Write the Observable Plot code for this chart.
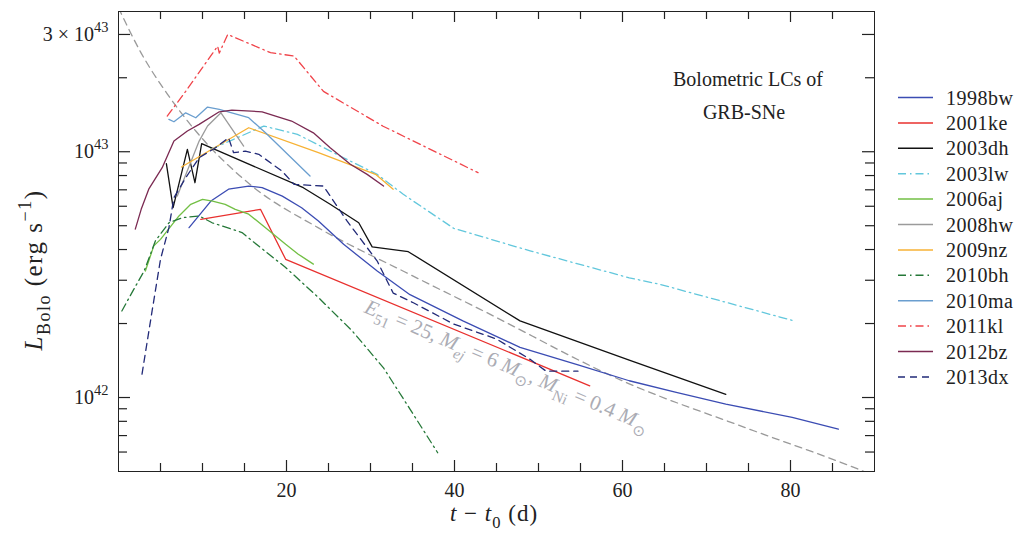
<!DOCTYPE html>
<html><head><meta charset="utf-8">
<script src="https://cdn.jsdelivr.net/npm/d3@7"></script>
<script src="https://cdn.jsdelivr.net/npm/@observablehq/plot@0.6"></script>
<style>
html,body{margin:0;padding:0;background:#fff;}
#chart{width:1017px;height:533px;}
svg text{white-space:pre;}
</style></head><body><div id="chart"></div>
<script>
// ---- data: t - t0 (days), L_Bolo in units of 1e42 erg/s ----
const t1998bw = [8.4,11.0,13.1,15.5,17.1,19.5,21.8,23.8,26.8,30.8,34.7,41.0,47.8,54.9,60.8,66.4,72.3,80.2,85.7];
const L1998bw = [4.91,6.30,7.04,7.25,7.14,6.60,5.92,5.23,4.20,3.27,2.62,2.05,1.60,1.35,1.17,1.05,0.94,0.83,0.744];
const t2001ke = [9.8,16.9,19.9,56.1];
const L2001ke = [5.31,5.83,3.65,1.116];
const t2003dh = [5.7,6.5,8.2,9.1,9.9,22.0,25.2,28.6,30.2,34.5,47.8,60.8,72.3];
const L2003dh = [8.94,5.92,10.23,7.48,10.78,7.14,6.11,5.14,4.10,3.92,2.05,1.42,1.03];
const t2003lw = [11.0,17.3,21.3,26.8,30.8,33.9,39.9,49.0,60.8,64.4,80.2];
const L2003lw = [10.23,12.72,11.77,9.45,8.09,6.71,4.88,3.95,3.07,2.89,2.06];
const t2006aj = [3.2,4.2,5.0,7.2,8.6,10.0,11.2,12.7,13.9,15.5,17.5,19.9,21.4,23.2];
const L2006aj = [3.27,4.14,4.40,5.48,6.11,6.40,6.30,6.11,5.83,5.57,4.91,4.20,3.83,3.49];
const t2008hw = [7.0,9.6,10.6,12.2,14.9];
const L2008hw = [6.6,11.05,12.72,14.4,10.55];
const t2009nz = [7.5,15.5,23.8,30.6,32.7];
const L2009nz = [8.67,12.52,9.91,8.09,7.04];
const t2010bh = [0.4,1.7,3.05,4.4,6.0,7.6,9.6,11.15,14.7,15.9,19.9,23.8,27.8,31.55,34.7,38.0];
const L2010bh = [2.25,2.71,3.27,4.34,5.14,5.39,5.48,5.14,4.69,4.34,3.38,2.55,1.87,1.32,0.897,0.596];
const t2010ma = [6.0,6.6,8.0,9.2,10.6,12.0,15.5,17.5,22.8];
const L2010ma = [13.54,13.24,14.4,13.75,15.2,14.87,13.75,11.94,7.96];
const t2011kl = [5.8,8.0,11.8,12.0,13.0,18.1,20.9,24.4,31.5,42.8];
const L2011kl = [13.97,17.6,26.9,25.2,30.0,25.3,24.5,17.6,12.7,8.22];
const t2012bz = [2.0,2.7,3.6,5.2,6.6,8.2,9.6,12.0,13.5,17.1,18.7,20.6,23.2,25.2,27.6,29.6,31.55];
const L2012bz = [4.84,5.83,7.04,8.61,11.05,12.14,12.92,14.54,14.77,14.54,13.97,13.33,11.94,10.38,8.89,8.09,7.25];
const t2013dx = [2.8,4.0,5.0,6.0,6.6,8.0,9.6,11.55,13.1,13.7,15.1,16.7,19.45,20.9,24.4,27.2,30.8,32.7,35.1,39.9,45.0,49.0,50.9,54.7];
const L2013dx = [1.245,2.25,3.65,4.91,6.5,7.84,9.45,10.38,11.4,9.91,10.06,9.76,8.35,7.37,7.25,5.23,3.59,2.66,2.43,1.99,1.73,1.43,1.28,1.28];
// model curve (E51 = 25, Mej = 6, MNi = 0.4)
const tModel = [0,2.7,5.8,9.2,15.9,23.8,34.1,43.0,60.8,75.0,88.5,90];
const LModel = [38.5,25.2,17.2,12.14,7.25,4.90,3.24,2.29,1.137,0.746,0.504,0.48];

const names = ["1998bw","2001ke","2003dh","2003lw","2006aj","2008hw","2009nz","2010bh","2010ma","2011kl","2012bz","2013dx"];
const colors = ["#3b4cb3","#e8302e","#111111","#62c7dc","#72bf44","#9b9b9b","#f7b234","#257838","#6a9ecf","#f0444a","#7b2a52","#222a78"];
const dashes = [null,null,null,"dd",null,null,null,"dd",null,"dd",null,"da"];

const xMajor = [20,40,60,80];
const xMinor = [5,10,15,25,30,35,45,50,55,65,70,75,85];
const yMajor = [1,10,30];
const yMinor = [0.6,0.7,0.8,0.9,2,3,4,5,6,7,8,9,20];
const yLabels = {"1":["10","42"],"10":["10","43"],"30":["3 × 10","43"]};

const tData = {"1998bw":t1998bw,"2001ke":t2001ke,"2003dh":t2003dh,"2003lw":t2003lw,"2006aj":t2006aj,"2008hw":t2008hw,"2009nz":t2009nz,"2010bh":t2010bh,"2010ma":t2010ma,"2011kl":t2011kl,"2012bz":t2012bz,"2013dx":t2013dx};
const LData = {"1998bw":L1998bw,"2001ke":L2001ke,"2003dh":L2003dh,"2003lw":L2003lw,"2006aj":L2006aj,"2008hw":L2008hw,"2009nz":L2009nz,"2010bh":L2010bh,"2010ma":L2010ma,"2011kl":L2011kl,"2012bz":L2012bz,"2013dx":L2013dx};

// ---- layout ----
const W = 1017, H = 533, mL = 118, mR = 143, mT = 11, mB = 62;
const xDom = [0, 90], yDom = [0.5, 37.2];
const dashMap = {dd: "8 4 1.5 4", da: "7 5"};
const FONT = '"Liberation Serif","Times New Roman",serif';

// tick lengths expressed in the scales' own units (pixels / px-per-unit)
const pxPerDay = (W - mL - mR) / (xDom[1] - xDom[0]);
const pxPerDecade = (H - mT - mB) / Math.log10(yDom[1] / yDom[0]);
const xLen = px => px / pxPerDay;
const yFac = px => Math.pow(10, px / pxPerDecade);

const rows = n => tData[n].map((t, i) => ({t, L: LData[n][i]}));
const modelRows = tModel.map((t, i) => ({t, L: LModel[i]}));

const lineMarks = names.map((n, i) => Plot.line(rows(n), {
  x: "t", y: "L", stroke: colors[i], strokeWidth: 1.3,
  strokeDasharray: dashes[i] ? dashMap[dashes[i]] : undefined
}));

const tickOpts = {stroke: "#222", strokeWidth: 1.2};
const ticksX = (vals, px) => [
  Plot.ruleX(vals, {x: d => d, y1: yDom[0], y2: yDom[0] * yFac(px), ...tickOpts}),
  Plot.ruleX(vals, {x: d => d, y1: yDom[1], y2: yDom[1] / yFac(px), ...tickOpts})
];
const ticksY = (vals, px) => [
  Plot.ruleY(vals, {y: d => d, x1: xDom[0], x2: xDom[0] + xLen(px), ...tickOpts}),
  Plot.ruleY(vals, {y: d => d, x1: xDom[1], x2: xDom[1] - xLen(px), ...tickOpts})
];

const plot = Plot.plot({
  width: W, height: H,
  marginLeft: mL, marginRight: mR, marginTop: mT, marginBottom: mB,
  style: {fontFamily: FONT, fontSize: "20px", color: "#222", background: "#fff"},
  x: {domain: xDom},
  y: {type: "log", domain: yDom},
  marks: [
    Plot.line(modelRows, {x: "t", y: "L", stroke: "#9a9a9a", strokeWidth: 1.3, strokeDasharray: "7 5", curve: "monotone-x", clip: true}),
    ...lineMarks,
    ...ticksX(xMajor, 11), ...ticksX(xMinor, 8),
    ...ticksY(yMajor, 12), ...ticksY(yMinor, 9),
    Plot.axisX(xMajor, {tickSize: 0, tickPadding: 11, label: null, fontSize: 20}),
    Plot.axisY(yMajor, {tickSize: 0, tickPadding: 10, label: null, fontSize: 20, tickFormat: d => String(d)}),
    Plot.frame({stroke: "#222", strokeWidth: 1})
  ]
});
document.getElementById("chart").appendChild(plot);

// ---- rich text helpers ----
function rich(textSel, parts, base) {
  let cur = 0;
  for (const p of parts) {
    const shift = p.sub ? base * 0.32 : p.sup ? -base * 0.45 : 0;
    const ts = textSel.append("tspan").text(p.t);
    if (shift !== cur) ts.attr("dy", shift - cur);
    cur = shift;
    if (p.sub || p.sup) ts.attr("font-size", base * 0.72);
    if (p.i) ts.attr("font-style", "italic");
  }
}
const svg = d3.select(plot);
const xs = plot.scale("x"), ys = plot.scale("y");

// y tick labels with superscripts
svg.selectAll('g[aria-label="y-axis tick label"] text').each(function() {
  const key = this.textContent.trim();
  const lab = yLabels[key];
  if (!lab) return;
  const sel = d3.select(this);
  sel.text("");
  rich(sel, [{t: lab[0]}, {t: lab[1], sup: true}], 20);
});

const ann = svg.append("g").attr("font-family", FONT).attr("fill", "#222").attr("text-anchor", "start");

// axis titles
const xt = ann.append("text").attr("x", 494).attr("y", 521).attr("text-anchor", "middle").attr("font-size", 23).attr("letter-spacing", 1);
rich(xt, [{t: "t", i: true}, {t: " − "}, {t: "t", i: true}, {t: "0", sub: true}, {t: " (d)"}], 23);
const yt = ann.append("text").attr("transform", "translate(42,270) rotate(-90)").attr("text-anchor", "middle").attr("font-size", 25).attr("letter-spacing", 1.5);
rich(yt, [{t: "L", i: true}, {t: "Bolo", sub: true}, {t: " (erg s"}, {t: "−1", sup: true}, {t: ")"}], 25);

// in-plot title
ann.append("text").attr("x", 748).attr("y", 86).attr("text-anchor", "middle").attr("font-size", 20).text("Bolometric LCs of");
ann.append("text").attr("x", 744).attr("y", 119).attr("text-anchor", "middle").attr("font-size", 20).text("GRB-SNe");

// model annotation
const ax = xs.apply(29.2), ay = ys.apply(2.22);
const at = ann.append("text").attr("transform", `translate(${ax},${ay}) rotate(23)`).attr("text-anchor", "start").attr("font-size", 21).attr("fill", "#abacb4");
rich(at, [{t: "E", i: true}, {t: "51", sub: true}, {t: " = 25, "}, {t: "M", i: true}, {t: "ej", sub: true, i: true},
  {t: " = 6 "}, {t: "M", i: true}, {t: "⊙", sub: true}, {t: ", "}, {t: "M", i: true}, {t: "Ni", sub: true},
  {t: " = 0.4 "}, {t: "M", i: true}, {t: "⊙", sub: true}], 21);

// legend
const leg = svg.append("g").attr("font-family", FONT).attr("font-size", 20).attr("fill", "#222").attr("text-anchor", "start");
names.forEach((n, i) => {
  const y = 97.5 + i * 25.4;
  leg.append("line").attr("x1", 898).attr("x2", 933).attr("y1", y).attr("y2", y)
    .attr("stroke", colors[i]).attr("stroke-width", 1.5)
    .attr("stroke-dasharray", dashes[i] ? dashMap[dashes[i]] : null);
  leg.append("text").attr("x", 946).attr("y", y).attr("dy", "0.35em").attr("letter-spacing", 0.5).text(n);
});
</script></body></html>
